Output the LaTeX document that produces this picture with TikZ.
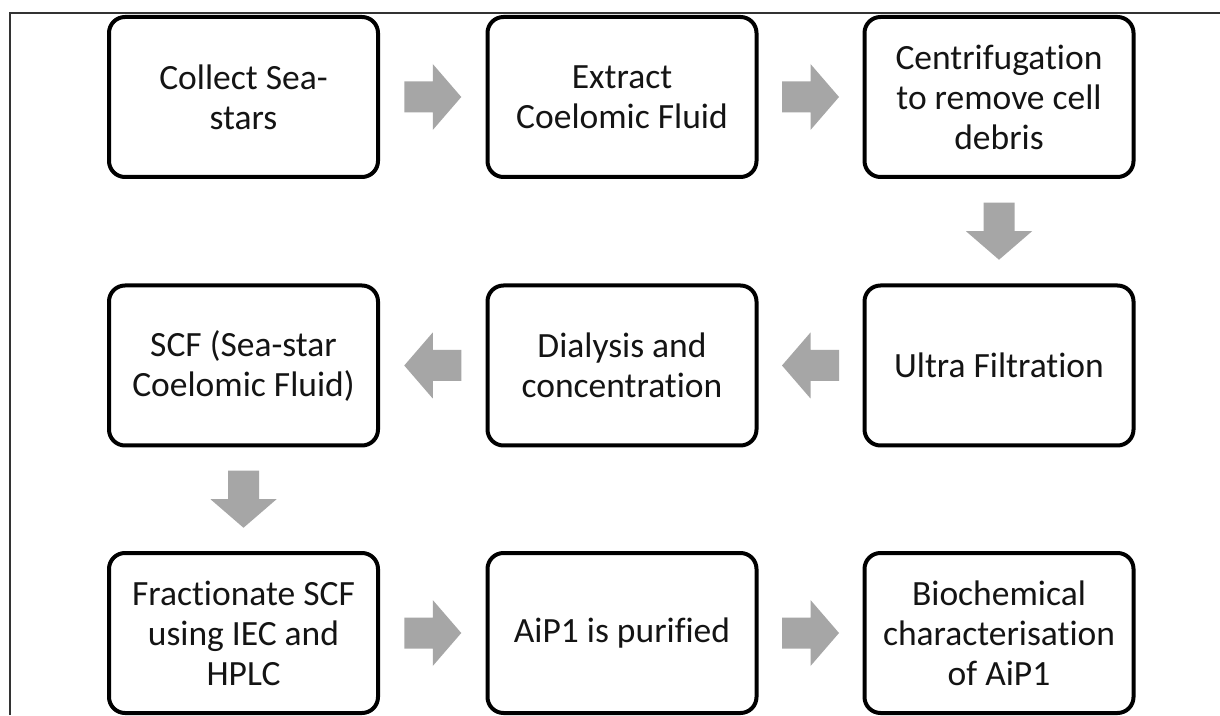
\documentclass[tikz,border=0pt]{standalone}
\usepackage{fontspec}
\setmainfont{Carlito}[Ligatures=NoCommon]
\usetikzlibrary{calc}
\definecolor{arrowgray}{RGB}{166,166,166}
\definecolor{textdark}{RGB}{20,20,20}
\tikzset{
  stepbox/.style={draw=black, line width=4pt, rounded corners=16pt,
    minimum width=269pt, minimum height=160pt, align=center,
    font=\fontsize{35.5}{40}\selectfont, text=textdark, inner sep=0pt, fill=white},
  blockarrow/.pic={\fill[arrowgray] (-28.5,-15.5) -- (0,-15.5) -- (0,-33) -- (28.5,0)
    -- (0,33) -- (0,15.5) -- (-28.5,15.5) -- cycle;},
  framerule/.style={line width=1.2pt, draw=black!80}
}
\begin{document}
\begin{tikzpicture}[x=1pt, y=1pt]
\useasboundingbox (0,0) rectangle (1220,715);
\fill[white] (0,0) rectangle (1220,715);
% frame (top and left sides visible)
\draw[framerule] (10,0) -- (10,702) -- (1220,702);

% top row
\node[stepbox] (b1) at (243.5,618) {Collect Sea-\\stars};
\node[stepbox] (b2) at (622,618) {Extract\\Coelomic Fluid};
\node[stepbox] (b3) at (999,618) {Centrifugation\\to remove cell\\debris};
% middle row
\node[stepbox] (b4) at (243.5,349.5) {SCF (Sea-star\\Coelomic Fluid)};
\node[stepbox] (b5) at (622,349.5) {Dialysis and\\concentration};
\node[stepbox] (b6) at (999,349.5) {Ultra Filtration};
% bottom row
\node[stepbox] (b7) at (243.5,82) {Fractionate SCF\\using IEC and\\HPLC};
\node[stepbox] (b8) at (622,82) {AiP1 is purified};
\node[stepbox] (b9) at (999,82) {Biochemical\\characterisation\\of AiP1};

% block arrows
\path ($(b1.east)!0.5!(b2.west)$) pic {blockarrow};
\path ($(b2.east)!0.5!(b3.west)$) pic {blockarrow};
\path ($(b3.south)!0.5!(b6.north)$) pic[rotate=-90] {blockarrow};
\path ($(b6.west)!0.5!(b5.east)$) pic[rotate=180] {blockarrow};
\path ($(b5.west)!0.5!(b4.east)$) pic[rotate=180] {blockarrow};
\path ($(b4.south)!0.5!(b7.north)$) pic[rotate=-90] {blockarrow};
\path ($(b7.east)!0.5!(b8.west)$) pic {blockarrow};
\path ($(b8.east)!0.5!(b9.west)$) pic {blockarrow};
\end{tikzpicture}
\end{document}
